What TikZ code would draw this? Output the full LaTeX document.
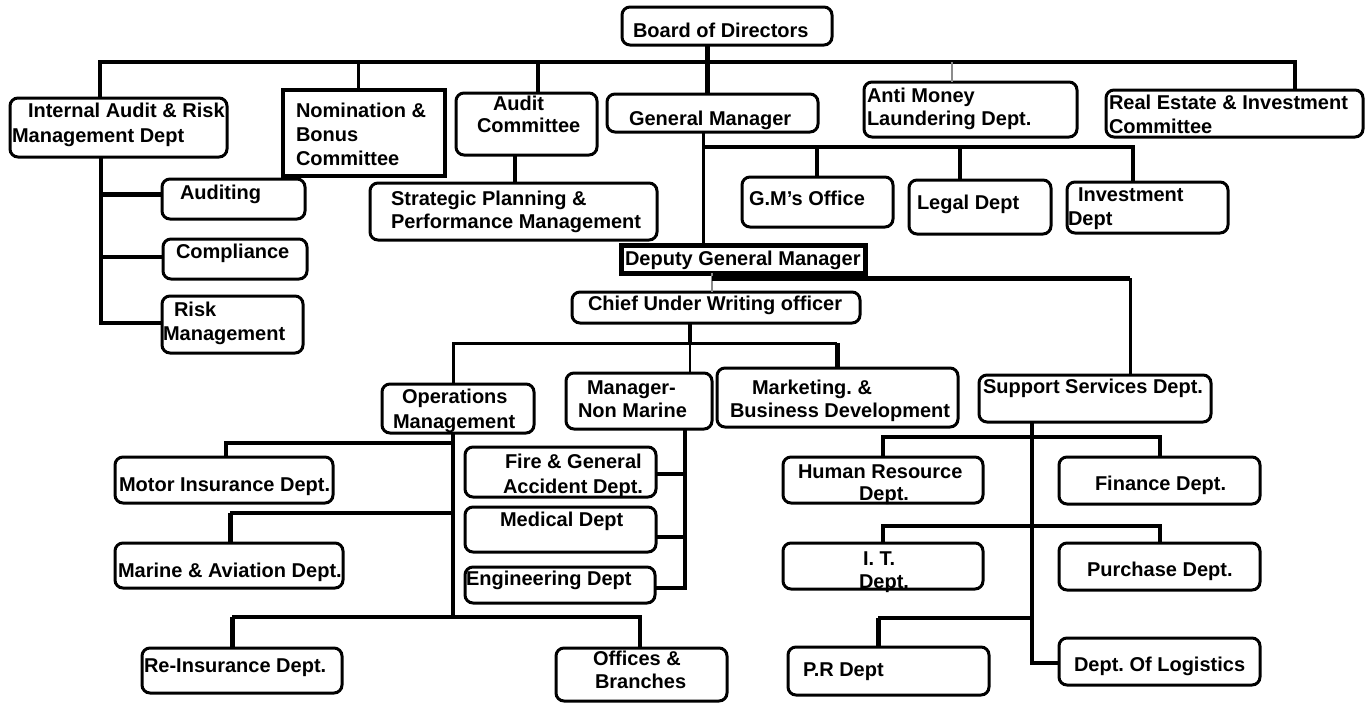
\documentclass[tikz,border=0pt]{standalone}
\usepackage{fontspec}
\setmainfont{Liberation Sans}
\frenchspacing
\newcommand{\TL}[2]{\hbox to \hsize{\hspace*{#1pt}\rule{0pt}{15pt}#2\hss}}
\newcommand{\Bx}[5]{\parbox[c][#2pt][t]{#1pt}{\vspace*{#3pt}\baselineskip=#4pt #5}}
\tikzset{
 box/.style={draw=black, line width=3pt, rounded corners=8pt, inner sep=0pt, outer sep=0pt, anchor=north west, font=\fontsize{20}{24}\selectfont\bfseries\frenchspacing},
 sqbox/.style={box, rounded corners=0pt, line width=4pt},
 conn/.style={draw=black, line width=3.5pt},
 thickconn/.style={draw=black, line width=5pt},
 thinconn/.style={draw=black, line width=2pt},
 grayconn/.style={draw=black!45, line width=2pt},
}
\begin{document}
\begin{tikzpicture}[x=1pt,y=-1pt]
\fill[white] (0,0) rectangle (1369,704);
\useasboundingbox (0,0) rectangle (1369,704);
% ---------- boxes ----------
\node[box] (board) at (622,7) {\Bx{210}{38}{15}{24}{\TL{11}{Board of Directors}}};
\node[box] (iar) at (10,98) {\Bx{217}{59}{4}{25}{\TL{18}{Internal Audit \& Risk}\TL{2}{Management Dept}}};
\node[sqbox] (nom) at (283,90) {\Bx{162}{86}{12}{24}{\TL{13}{Nomination \&}\TL{13}{Bonus}\TL{13}{Committee}}};
\node[box] (audc) at (456,93) {\Bx{141}{62}{2}{22}{\TL{37}{Audit}\TL{21}{Committee}}};
\node[box] (gm) at (607,94) {\Bx{211}{38}{16}{24}{\TL{22}{General Manager}}};
\node[box] (aml) at (864,82) {\Bx{213}{55}{5}{23}{\TL{3}{Anti Money}\TL{3}{Laundering Dept.}}};
\node[box] (rei) at (1106,90) {\Bx{257}{47}{4}{24}{\TL{3}{Real Estate \& Investment}\TL{3}{Committee}}};
\node[box] (aud) at (162,179) {\Bx{143}{40}{5}{24}{\TL{18}{Auditing}}};
\node[box] (comp) at (163,239) {\Bx{144}{40}{4}{24}{\TL{13}{Compliance}}};
\node[box] (risk) at (162,296) {\Bx{141}{57}{5}{24}{\TL{12}{Risk}\TL{1}{Management}}};
\node[box] (spm) at (370,183) {\Bx{287}{57}{7}{23}{\TL{21}{Strategic Planning \&}\TL{21}{Performance Management}}};
\node[box] (gmo) at (742,177) {\Bx{151}{50}{13}{24}{\TL{7}{G.M’s Office}}};
\node[box] (legal) at (909,180) {\Bx{142}{54}{14}{24}{\TL{8}{Legal Dept}}};
\node[box] (inv) at (1067,182) {\Bx{161}{51}{4}{24}{\TL{11}{Investment}\TL{1}{Dept}}};
\node[sqbox, line width=5pt] (dgm) at (621,245) {\Bx{244}{28}{5}{24}{\TL{4}{Deputy General Manager}}};
\node[box] (cuw) at (572,292) {\Bx{288}{31}{3}{24}{\TL{16}{Chief Under Writing officer}}};
\node[box] (ops) at (382,384) {\Bx{152}{49}{4}{25}{\TL{20}{Operations}\TL{11}{Management}}};
\node[box] (mnm) at (566,373) {\Bx{146}{56}{6}{23}{\TL{21}{Manager-}\TL{12}{Non Marine}}};
\node[box] (mkt) at (717,368) {\Bx{241}{59}{11}{23}{\TL{35}{Marketing. \&}\TL{13}{Business Development}}};
\node[box] (sup) at (979,375) {\Bx{232}{47}{3}{24}{\TL{4}{Support Services Dept.}}};
\node[box] (motor) at (115,457) {\Bx{218}{46}{19}{24}{\TL{4}{Motor Insurance Dept.}}};
\node[box] (marine) at (115,543) {\Bx{228}{45}{19}{24}{\TL{3}{Marine \& Aviation Dept.}}};
\node[box] (reins) at (142,648) {\Bx{200}{45}{9}{24}{\TL{2}{Re-Insurance Dept.}}};
\node[box] (fire) at (465,447) {\Bx{191}{50}{6}{25}{\TL{40}{Fire \& General}\TL{38}{Accident Dept.}}};
\node[box] (med) at (465,507) {\Bx{191}{45}{4}{24}{\TL{35}{Medical Dept}}};
\node[box] (eng) at (465,567) {\Bx{190}{36}{3}{24}{\TL{1}{Engineering Dept}}};
\node[box] (off) at (556,648) {\Bx{171}{53}{2}{23}{\TL{37}{Offices \&}\TL{39}{Branches}}};
\node[box] (hr) at (783,457) {\Bx{200}{46}{6}{22}{\TL{15}{Human Resource}\TL{76}{Dept.}}};
\node[box] (fin) at (1059,457) {\Bx{201}{47}{18}{24}{\TL{36}{Finance Dept.}}};
\node[box] (it) at (783,543) {\Bx{200}{46}{7}{23}{\TL{80}{I. T.}\TL{76}{Dept.}}};
\node[box] (pur) at (1059,543) {\Bx{201}{47}{18}{24}{\TL{28}{Purchase Dept.}}};
\node[box] (pr) at (788,647) {\Bx{201}{48}{14}{24}{\TL{15}{P.R Dept}}};
\node[box] (log) at (1059,638) {\Bx{201}{47}{18}{24}{\TL{15}{Dept. Of Logistics}}};
% ---------- junctions ----------
\coordinate (jL) at (100,62);
\coordinate (jR) at (1295,62);
\coordinate (jNom) at (358,62);
\coordinate (jAud) at (538,62);
\coordinate (jGM) at (707,62);
\coordinate (jAML) at (952,62);
\coordinate (gmA) at (703,147);
\coordinate (gmB) at (1133,147);
\coordinate (gmC) at (817,147);
\coordinate (gmD) at (960,147);
\coordinate (auS) at (515,170);
\coordinate (iaX) at (101,323);
\coordinate (audJ) at (101,194);
\coordinate (cmpJ) at (101,257);
\coordinate (dgX) at (712,278);
\coordinate (dgR) at (1130,278);
\coordinate (cuA) at (690,343);
\coordinate (cuL) at (453,343);
\coordinate (cuR) at (837,343);
\coordinate (opB) at (453,617);
\coordinate (opM) at (453,443);
\coordinate (moJ) at (226,443);
\coordinate (opN) at (453,513);
\coordinate (maJ) at (230,513);
\coordinate (reJ) at (232,617);
\coordinate (ofJ) at (640,617);
\coordinate (mnX) at (685,588);
\coordinate (fiJ) at (685,474);
\coordinate (meJ) at (685,537);
\coordinate (suX) at (1032,663);
\coordinate (hrL) at (883,437);
\coordinate (hrR) at (1160,437);
\coordinate (itL) at (883,526);
\coordinate (itR) at (1160,526);
\coordinate (prL) at (878,618);
\coordinate (prR) at (1032,618);
% ---------- connectors ----------
\draw[conn] (iar.north -| jL) -- (jL) -- (jR) -- (rei.north -| jR);
\draw[conn, line width=3pt] (jNom) -- (nom.north -| jNom);
\draw[conn] (jAud) -- (audc.north -| jAud);
\draw[thickconn] (board.south -| jGM) -- (gm.north -| jGM);
\draw[grayconn] (jAML) -- (aml.north -| jAML);
\draw[conn, line width=3pt] (gm.south -| gmA) -- (dgm.north -| gmA);
\draw[conn] (gmA) -- (gmB) -- (inv.north -| gmB);
\draw[conn] (gmC) -- (gmo.north -| gmC);
\draw[conn] (gmD) -- (legal.north -| gmD);
\draw[conn] (audc.south -| auS) -- (spm.north -| auS);
\draw[conn] (iar.south -| iaX) -- (iaX) -- (iaX -| risk.west);
\draw[thickconn] (audJ) -- (audJ -| aud.west);
\draw[conn] (cmpJ) -- (cmpJ -| comp.west);
\draw[grayconn] (dgm.south -| dgX) -- (cuw.north -| dgX);
\draw[thickconn] (dgX) -- (dgR);
\draw[conn, line width=3pt] (dgR) -- (sup.north -| dgR);
\draw[conn] (cuw.south -| cuA) -- (cuA);
\draw[conn, line width=3pt] (ops.north -| cuL) -- (cuL) -- (cuR);
\draw[thinconn] (cuA) -- (mnm.north -| cuA);
\draw[thickconn] (cuR) -- (mkt.north -| cuR);
\draw[conn] (ops.south -| opB) -- (opB);
\draw[conn] (opM) -- (moJ) -- (motor.north -| moJ);
\draw[conn] (opN) -- (maJ);
\draw[thickconn] (maJ) -- (marine.north -| maJ);
\draw[conn] (reJ) -- (ofJ) -- (off.north -| ofJ);
\draw[thickconn] (reJ) -- (reins.north -| reJ);
\draw[conn] (mnm.south -| mnX) -- (mnX) -- (mnX -| eng.east);
\draw[conn] (fiJ) -- (fiJ -| fire.east);
\draw[conn] (meJ) -- (meJ -| med.east);
\draw[conn] (sup.south -| suX) -- (suX) -- (suX -| log.west);
\draw[conn] (hr.north -| hrL) -- (hrL) -- (hrR) -- (fin.north -| hrR);
\draw[conn] (it.north -| itL) -- (itL) -- (itR) -- (pur.north -| itR);
\draw[conn] (prR) -- (prL);
\draw[thickconn] (prL) -- (pr.north -| prL);
\end{tikzpicture}
\end{document}
